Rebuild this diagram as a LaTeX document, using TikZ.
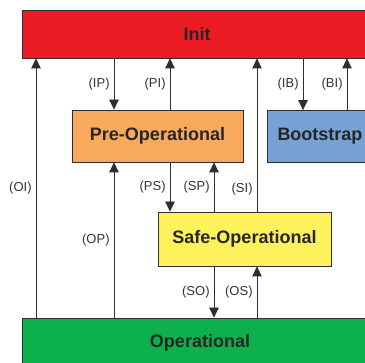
\documentclass[tikz,border=0pt]{standalone}
\usepackage{fontspec}
\setmainfont{Liberation Sans}
\usetikzlibrary{arrows.meta}
\definecolor{cinit}{HTML}{EC1C24}
\definecolor{cpre}{HTML}{F8A95B}
\definecolor{cboot}{HTML}{78A2D6}
\definecolor{csafe}{HTML}{FEF25C}
\definecolor{cop}{HTML}{0DB14B}
\definecolor{cline}{HTML}{2E2E2E}
\begin{document}
\begin{tikzpicture}[x=1pt,y=-1pt,
  state/.style={draw=cline,line width=0.8pt,rectangle,inner sep=0pt,
    font=\fontsize{18}{20}\selectfont\bfseries,text=black!85},
  conn/.style={draw=cline,line width=0.8pt,-{Triangle[width=9.5pt,length=10pt]}},
  lbl/.style={font=\fontsize{13}{15}\selectfont,text=black!80,inner sep=1.5pt,left=2.5pt}]
\useasboundingbox (0,0) rectangle (365,363);
% states
\node[state,fill=cinit,minimum width=350pt,minimum height=48pt] (init) at (197,34) {Init};
\node[state,fill=cpre,minimum width=171pt,minimum height=52pt] (pre) at (157.5,136) {Pre-Operational};
\node[state,fill=cboot,minimum width=106pt,minimum height=52pt] (boot) at (320,136.5) {Bootstrap};
\node[state,fill=csafe,minimum width=173pt,minimum height=54pt] (safe) at (244.5,239) {Safe-Operational};
\node[state,fill=cop,minimum width=356pt,minimum height=50pt] (op) at (200,343) {Operational};
% columns
\coordinate (c1) at (36,0);
\coordinate (c2) at (114,0);
\coordinate (c3) at (170,0);
\coordinate (c4) at (214,0);
\coordinate (c5) at (257,0);
\coordinate (c6) at (303,0);
\coordinate (c7) at (347,0);
% transitions
\draw[conn] (op.north -| c1) -- node[lbl] (lOI) {(OI)} (init.south -| c1);
\draw[conn] (init.south -| c2) -- node[lbl] (lIP) {(IP)} (pre.north -| c2);
\draw[conn] (pre.north -| c3) -- node[lbl] (lPI) {(PI)} (init.south -| c3);
\draw[conn] (safe.north -| c5) -- node[lbl,pos=0.145] (lSI) {(SI)} (init.south -| c5);
\draw[conn] (init.south -| c6) -- node[lbl] (lIB) {(IB)} (boot.north -| c6);
\draw[conn] (boot.north -| c7) -- node[lbl] (lBI) {(BI)} (init.south -| c7);
\draw[conn] (op.north -| c2) -- node[lbl] (lOP) {(OP)} (pre.south -| c2);
\draw[conn] (pre.south -| c3) -- node[lbl] (lPS) {(PS)} (safe.north -| c3);
\draw[conn] (safe.north -| c4) -- node[lbl] (lSP) {(SP)} (pre.south -| c4);
\draw[conn] (safe.south -| c4) -- node[lbl] (lSO) {(SO)} (op.north -| c4);
\draw[conn] (op.north -| c5) -- node[lbl] (lOS) {(OS)} (safe.south -| c5);
\end{tikzpicture}
\end{document}
